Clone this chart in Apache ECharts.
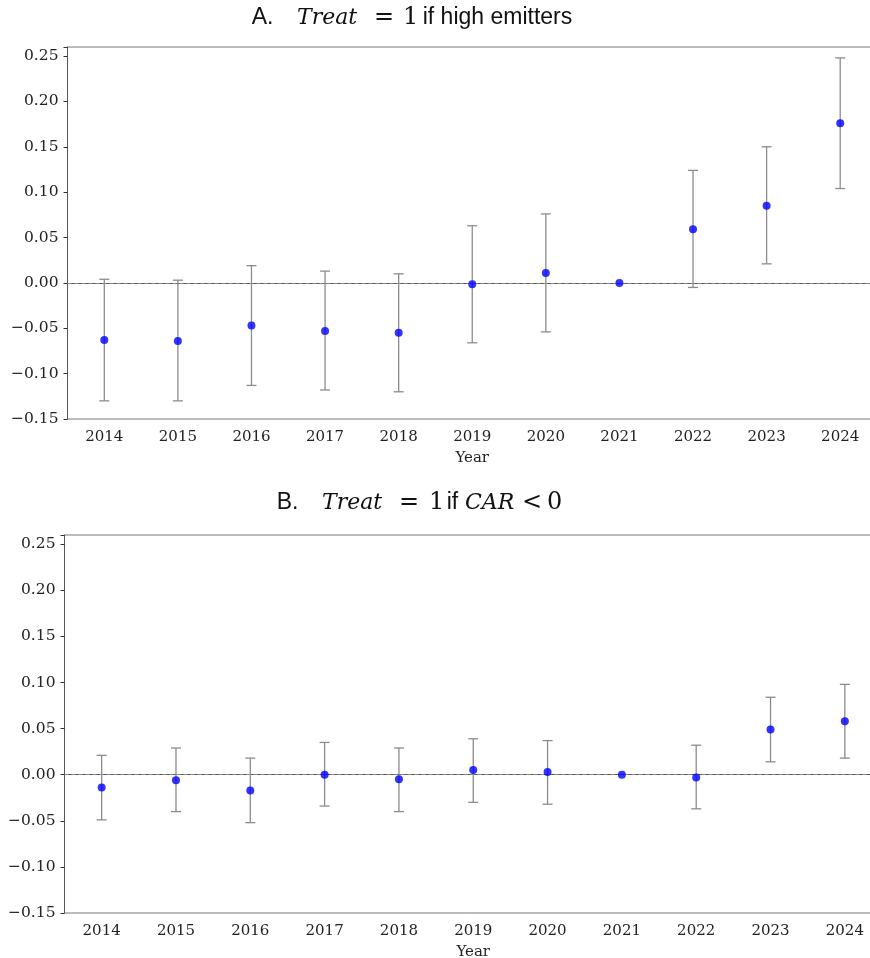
<!DOCTYPE html>
<html>
<head>
<meta charset="utf-8">
<script src="https://cdn.jsdelivr.net/npm/echarts@6/dist/echarts.min.js"></script>
<style>
html,body{margin:0;padding:0;background:#fff;}
#c{width:870px;height:958px;}
</style>
</head>
<body>
<div id="c"></div>
<script>
const years = ['2014','2015','2016','2017','2018','2019','2020','2021','2022','2023','2024'];
const yTicks = [-0.15,-0.10,-0.05,0.00,0.05,0.10,0.15,0.20,0.25];

const estA  = [-0.063,-0.064,-0.047,-0.053,-0.055,-0.0015,0.011,0.000,0.059,0.085,0.176];
const lowA  = [-0.130,-0.130,-0.113,-0.118,-0.120,-0.066,-0.054,0.000,-0.005,0.021,0.104];
const highA = [0.004,0.003,0.019,0.013,0.010,0.063,0.076,0.000,0.124,0.150,0.248];

const estB  = [-0.014,-0.006,-0.017,0.000,-0.005,0.005,0.003,0.000,-0.003,0.049,0.058];
const lowB  = [-0.049,-0.040,-0.052,-0.034,-0.040,-0.030,-0.032,0.000,-0.037,0.014,0.018];
const highB = [0.021,0.029,0.018,0.035,0.029,0.039,0.037,0.000,0.032,0.084,0.098];

const serif = '"DejaVu Serif", "Liberation Serif", serif';
const sans = '"Liberation Sans", Arial, sans-serif';
const mathF = '"DejaVu Serif", serif';
const axisCol = '#555';

function fmtY(v){
  const k = Math.round(v*100);
  if (k % 5 !== 0) return '';
  return (v < 0 ? '\u2212' : '') + Math.abs(v).toFixed(2);
}

function errRender(params, api){
  const x = api.value(0), lo = api.value(1), hi = api.value(2);
  if (lo === hi) return null;
  const p1 = api.coord([x, lo]), p2 = api.coord([x, hi]);
  const w = 5;
  const st = {stroke:'#8c8c8c', lineWidth:1.3};
  return {type:'group', children:[
    {type:'line', shape:{x1:p1[0],y1:p1[1],x2:p2[0],y2:p2[1]}, style:st},
    {type:'line', shape:{x1:p1[0]-w,y1:p1[1],x2:p1[0]+w,y2:p1[1]}, style:st},
    {type:'line', shape:{x1:p2[0]-w,y1:p2[1],x2:p2[0]+w,y2:p2[1]}, style:st}
  ]};
}

function xAx(gi){
  return {
    type:'category', data:years, gridIndex:gi, boundaryGap:true,
    name:'Year', nameLocation:'middle', nameGap:32,
    nameTextStyle:{fontFamily:serif, fontSize:15, color:'#222'},
    axisLine:{lineStyle:{color:axisCol, width:1}},
    axisTick:{alignWithLabel:true, length:4, lineStyle:{color:'#333'}},
    axisLabel:{fontFamily:serif, fontSize:15, color:'#222', margin:11},
    splitLine:{show:false}
  };
}
function yAx(gi){
  return {
    type:'value', gridIndex:gi, min:-0.15, max:0.26, interval:0.05,
    axisLine:{show:true, lineStyle:{color:axisCol, width:1}},
    axisTick:{show:true, length:4, lineStyle:{color:'#333'}},
    axisLabel:{fontFamily:serif, fontSize:15.5, color:'#222', margin:9, formatter:fmtY},
    splitLine:{show:false}
  };
}

function piece(txt, x, y, kind){
  const st = {text:txt, fill:'#111', verticalAlign:'middle', align:'left'};
  if (kind === 'i') { st.font = 'italic 22px ' + mathF; }
  else if (kind === 'n') { st.font = '24px ' + mathF; }
  else { st.font = '23px ' + sans; }
  return {type:'text', x:x, y:y, style:st, silent:true};
}

const titleA = [
  piece('A.', 251.7, 18, 'a'), piece('Treat', 297, 18, 'i'), piece('=', 374, 18, 'n'),
  piece('1', 403, 18, 'n'), piece('if high emitters', 422.7, 18, 'a')
];
const titleB = [
  piece('B.', 276.7, 503, 'a'), piece('Treat', 322, 503, 'i'), piece('=', 399, 503, 'n'),
  piece('1', 429, 503, 'n'), piece('if', 446.7, 503, 'a'), piece('CAR', 465, 503, 'i'),
  piece('<', 522, 503, 'n'), piece('0', 547, 503, 'n')
];

const chart = echarts.init(document.getElementById('c'), null, {renderer:'canvas'});
chart.setOption({
  animation:false,
  backgroundColor:'#fff',
  graphic: titleA.concat(titleB),
  grid:[
    {left:67.5, top:47, width:809.5, height:372, show:true, borderColor:'#777', borderWidth:1,
     containLabel:false, outerBoundsMode:'none'},
    {left:64.5, top:535, width:817.5, height:378, show:true, borderColor:'#777', borderWidth:1,
     containLabel:false, outerBoundsMode:'none'}
  ],
  xAxis:[xAx(0), xAx(1)],
  yAxis:[yAx(0), yAx(1)],
  series:[
    {type:'custom', xAxisIndex:0, yAxisIndex:0, renderItem:errRender,
     data:years.map((y,i)=>[i, lowA[i], highA[i]]), z:2,
     markLine:{silent:true, symbol:['none','none'], label:{show:false},
       lineStyle:{color:'#888', type:[4,3], width:1}, data:[{yAxis:0}]}},
    {type:'scatter', xAxisIndex:0, yAxisIndex:0, symbolSize:8,
     itemStyle:{color:'#0000ff'}, data:estA, z:5},
    {type:'custom', xAxisIndex:1, yAxisIndex:1, renderItem:errRender,
     data:years.map((y,i)=>[i, lowB[i], highB[i]]), z:2,
     markLine:{silent:true, symbol:['none','none'], label:{show:false},
       lineStyle:{color:'#888', type:[4,3], width:1}, data:[{yAxis:0}]}},
    {type:'scatter', xAxisIndex:1, yAxisIndex:1, symbolSize:8,
     itemStyle:{color:'#0000ff'}, data:estB, z:5}
  ]
});
</script>
</body>
</html>
